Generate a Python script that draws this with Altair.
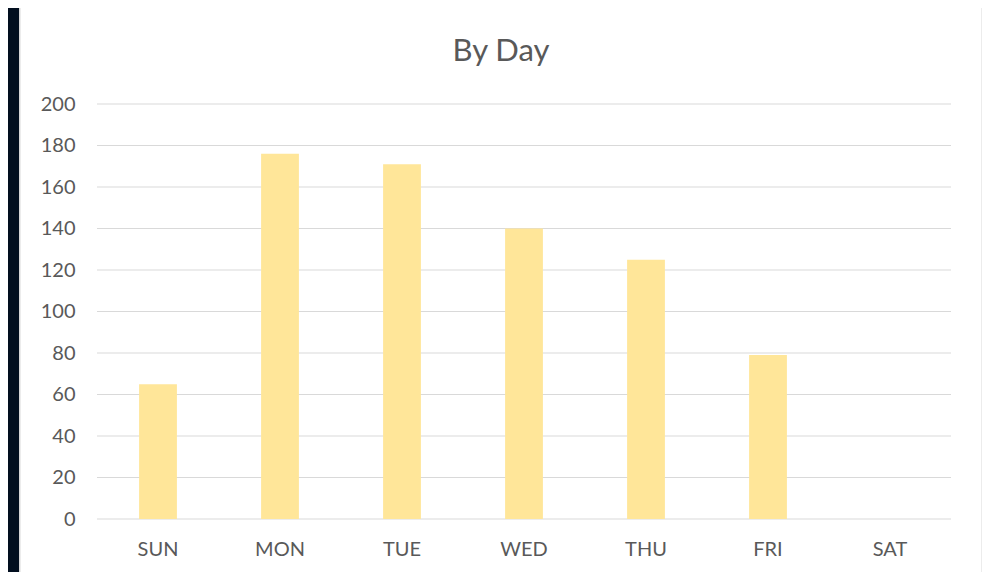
import altair as alt
import pandas as pd

days = ["SUN", "MON", "TUE", "WED", "THU", "FRI", "SAT"]
counts = [65, 176, 171, 140, 125, 79, 0]
y_ticks = [0, 20, 40, 60, 80, 100, 120, 140, 160, 180, 200]

df = pd.DataFrame({"day": days, "count": counts})
grid_df = pd.DataFrame({"v": y_ticks})

W, H = 854, 415
FONT = "Lato"
TXT = "#595959"

x_scale = alt.Scale(domain=days, paddingInner=0.69, paddingOuter=0.345)
y_scale = alt.Scale(domain=[0, 200])
y_axis = alt.Axis(title=None, values=y_ticks, grid=False, domain=False,
                  ticks=False, labelPadding=22, labelFont=FONT,
                  labelFontSize=20, labelColor=TXT, zindex=1)

panel = alt.Chart(df).mark_rect(
    color="white", stroke="#d9d9d9", strokeWidth=1
).encode(
    x=alt.value(-77), x2=alt.value(885), y=alt.value(-100), y2=alt.value(480)
)

grid = alt.Chart(grid_df).mark_rule(color="#d9d9d9", strokeWidth=1).encode(
    y=alt.Y("v:Q", scale=y_scale, axis=y_axis)
)

bars = alt.Chart(df).mark_bar(color="#FFE699").encode(
    x=alt.X("day:N", sort=days, scale=x_scale,
            axis=alt.Axis(title=None, labelAngle=0, domain=False, ticks=False,
                          labelPadding=20, labelFont=FONT, labelFontSize=20,
                          labelColor=TXT, zindex=1)),
    y=alt.Y("count:Q", scale=y_scale, axis=y_axis),
)

chart = alt.layer(panel, grid, bars).properties(
    width=W, height=H,
    autosize=alt.AutoSizeParams(type="none"),
    padding={"left": 89, "top": 96, "right": 31, "bottom": 53},
    background="#020f1f",
    title=alt.TitleParams("By Day", font=FONT, fontSize=31, fontWeight="normal",
                          color=TXT, anchor="middle", frame="group",
                          baseline="alphabetic", dx=-23, dy=88, offset=0),
).configure_view(strokeWidth=0)

chart.save("out.html", embed_options={"renderer": "svg", "actions": False})
